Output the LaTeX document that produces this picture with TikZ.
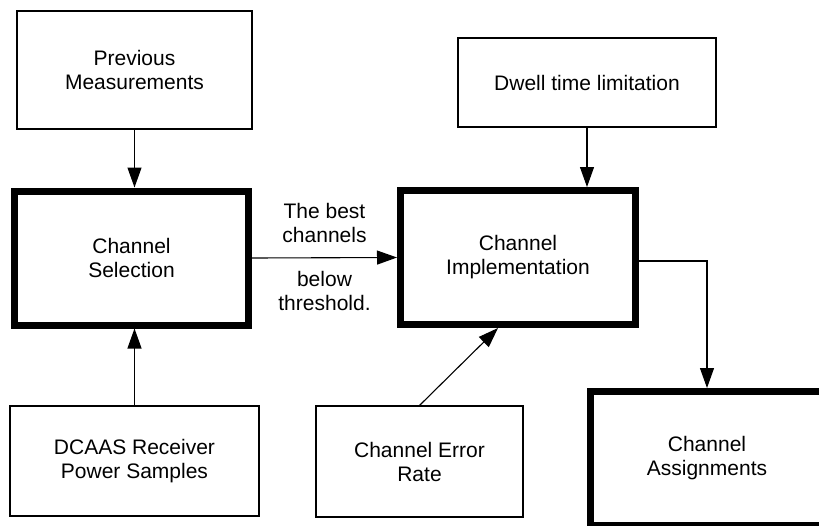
\documentclass[tikz,border=0pt]{standalone}
\usepackage{fontspec}
\setmainfont{Liberation Sans}
\usetikzlibrary{arrows.meta}
\tikzset{
  box/.style   = {draw, line width=1.1pt, align=center, inner sep=0pt,
                  font=\fontsize{21}{24}\selectfont},
  block/.style = {box, line width=7pt, minimum width=234pt, minimum height=134pt},
  flow/.style  = {-{Triangle[length=20pt,width=14pt]}, line width=1.1pt},
  note/.style  = {align=center, inner sep=0pt, font=\fontsize{21}{24}\selectfont},
}

\begin{document}
\begin{tikzpicture}[x=1pt, y=-1pt]
        \useasboundingbox (0,0) rectangle (819,525);
        \clip (0,0) rectangle (819,525);
        % inputs
        \node[box, minimum width=235pt, minimum height=118pt] (prev)  at (134.5,70)  {Previous\\Measurements};
        \node[box, minimum width=258pt, minimum height=89pt]  (dwell) at (587,82.5)  {Dwell time limitation};
        \node[box, minimum width=249pt, minimum height=110pt] (dcaas) at (134.5,461) {DCAAS Receiver\\Power Samples};
        \node[box, minimum width=207pt, minimum height=111pt] (err)   at (419.5,461.5) {Channel Error\\Rate};
        % main blocks
        \node[block] (sel)    at (131.5,258) {Channel\\Selection};
        \node[block, minimum width=235pt] (impl) at (518,257.5) {Channel\\Implementation};
        \node[block] (assign) at (707,458.5) {Channel\\Assignments};
        \coordinate (implout) at ([yshift=-3.5pt]impl.east);
        \coordinate (errin)   at ([xshift=-20pt]impl.south);
        % connectors
        \draw[flow] (prev.south) -- (prev.south |- sel.north);
        \draw[flow] (dcaas.north) -- (dcaas.north |- sel.south);
        \draw[flow] (dwell.south) -- (dwell.south |- impl.north);
        \draw[flow] (sel.east) -- node[note, midway, above=14pt] {The best\\channels}
                                  node[note, midway, below=13pt] {below\\threshold.} (impl.west);
        \draw[flow] (err.north) -- (errin);
        \draw[flow] (implout) -| (assign.north);
\end{tikzpicture}
\end{document}
